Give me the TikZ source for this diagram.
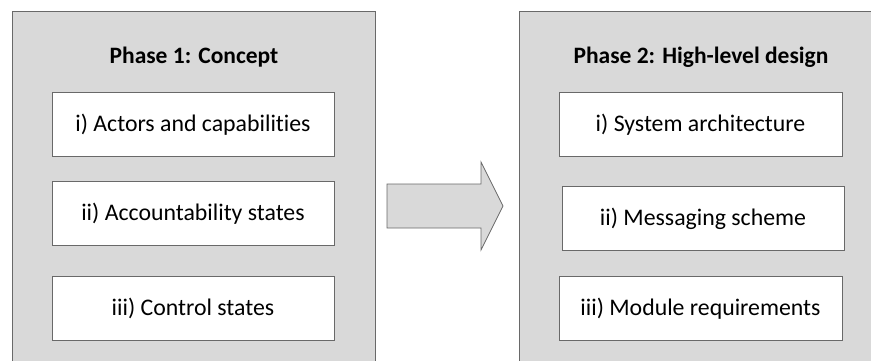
\documentclass[tikz,border=0pt]{standalone}
\usepackage{fontspec}
\setmainfont[Ligatures=NoCommon]{Carlito}
\definecolor{panelgray}{RGB}{217,217,217}
\definecolor{edgegray}{RGB}{105,105,105}
\tikzset{
  panel/.style={draw=edgegray, fill=panelgray, line width=1pt, anchor=north west, inner sep=0pt},
  item/.style={draw=edgegray, fill=white, line width=1pt, minimum width=282pt, minimum height=64pt,
    inner sep=0pt, text height=20pt, text depth=6pt, font=\fontsize{23.8}{28}\selectfont},
  phase/.style={anchor=base, font=\fontsize{23.5}{28}\selectfont\bfseries},
}
\begin{document}
\begin{tikzpicture}[x=1pt,y=-1pt]
    \useasboundingbox (0,0) rectangle (871,360);
    \clip (0,0) rectangle (871,360);

    % Riquadri delle fasi
    \node[panel, minimum width=363pt, minimum height=380pt] (concept) at (12,11) {};
    \node[panel, minimum width=372pt, minimum height=380pt] (design) at (519,11) {};

    % Titoli
    \node[phase] (concepttitle) at (194,63) {Phase 1: Concept};
    \node[phase] (designtitle) at (701,63) {Phase 2: High-level design};

    % Fase 1
    \node[item] (actors) at (193,124) {i) Actors and capabilities};
    \node[item] (account) at (193,213.5) {ii) Accountability states};
    \node[item] (control) at (193,308) {iii) Control states};

    % Fase 2
    \node[item, minimum width=283pt] (arch) at (700.5,124) {i) System architecture};
    \node[item] (msg) at (703,218) {ii) Messaging scheme};
    \node[item, minimum width=283pt] (module) at (700.5,308) {iii) Module requirements};

    % Freccia tra le fasi
    \draw[edgegray, fill=panelgray, line width=0.8pt]
        (387,184) -- (481,184) -- (481,162) -- (503,206) -- (481,250) -- (481,228) -- (387,228) -- cycle;
\end{tikzpicture}
\end{document}
